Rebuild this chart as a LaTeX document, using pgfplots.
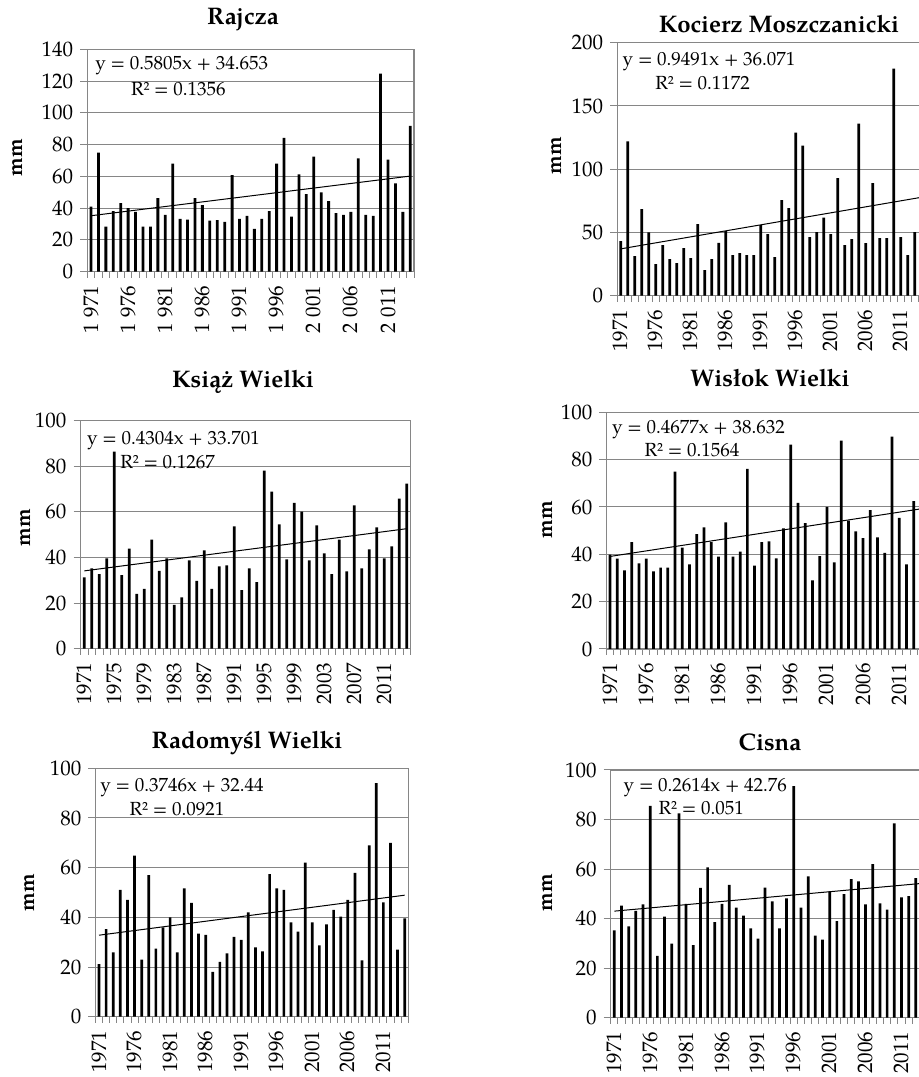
\documentclass[border=0pt]{standalone}
\usepackage{fontspec}
\setmainfont{TeX Gyre Pagella}
\usepackage{pgfplots}
\pgfplotsset{compat=1.18}
\definecolor{gridgray}{RGB}{134,134,134}
\pgfplotsset{
  panel/.style={
    scale only axis, xmin=0.5, xmax=44.5, ymin=0,
    anchor=south west,
    axis line style={gridgray, line width=0.6pt},
    ymajorgrids, grid style={gridgray, line width=0.5pt},
    tick align=outside, tick pos=left,
    major tick length=3.5pt, minor tick length=3pt,
    major x tick style={draw=none},
    minor x tick style={gridgray, line width=0.5pt},
    y tick style={gridgray, line width=0.5pt},
    minor xtick={0.5,1.5,...,44.5},
    xticklabel style={rotate=90, anchor=east},
    tick label style={font=\fontsize{10.5}{12}\selectfont},
    /pgf/number format/assume math mode=true,
    /pgf/number format/1000 sep={},
  },
  bars/.style={ybar, bar width=0.38, fill=black, draw=none},
  trend/.style={black, line width=0.5pt, sharp plot, mark=none},
}
\tikzset{
  ttl/.style={font=\bfseries\fontsize{12}{14}\selectfont},
  eq/.style={anchor=west, inner sep=0pt, font=\fontsize{9.5}{11}\selectfont},
  mm/.style={rotate=90, font=\bfseries\fontsize{10.5}{12}\selectfont},
}
\begin{document}
\begin{tikzpicture}
\useasboundingbox (0,0) rectangle (459pt,538.5pt);

% ---------- Rajcza ----------
\begin{axis}[panel, at={(43.65pt,402.65pt)}, width=163.35pt, height=111.2pt,
  ymax=140, ytick={0,20,...,140},
  xtick={1,6,...,41},
  xticklabels={1 971,1 976,1 981,1 986,1 991,1 996,2 001,2 006,2 011}]
\addplot[bars] coordinates {
(1,41)(2,75)(3,28.3)(4,38.2)(5,43.2)(6,40)(7,37.7)(8,28.3)(9,28.3)(10,46.3)
(11,35.8)(12,68.1)(13,33.3)(14,32.7)(15,46.3)(16,41.9)(17,32.1)(18,32.5)(19,31.4)(20,60.8)
(21,33.3)(22,35.2)(23,27)(24,33.3)(25,38.2)(26,68.1)(27,84.3)(28,34.6)(29,61.2)(30,48.8)
(31,72.5)(32,49.9)(33,44.4)(34,36.9)(35,35.8)(36,37.7)(37,71.3)(38,35.8)(39,35.2)(40,124.7)
(41,70.6)(42,55.6)(43,37.7)(44,91.8)};
\addplot[trend] coordinates {(1,35.23)(44,60.19)};
\end{axis}

% ---------- Kocierz Moszczanicki ----------
\begin{axis}[panel, at={(308.6pt,390.65pt)}, width=154pt, height=126.5pt,
  ymax=200, ytick={0,50,...,200},
  xtick={1,6,...,41},
  xticklabels={1971,1976,1981,1986,1991,1996,2001,2006,2011}]
\addplot[bars] coordinates {
(1,43.2)(2,122)(3,31.3)(4,68.4)(5,50)(6,25)(7,40)(8,29)(9,25.8)(10,37.6)
(11,29.7)(12,56.6)(13,20.3)(14,29)(15,41.8)(16,51)(17,32.1)(18,33.7)(19,32.1)(20,32.1)
(21,55.8)(22,48.7)(23,30.5)(24,75.5)(25,69.2)(26,129)(27,118.7)(28,46.3)(29,50.3)(30,61.8)
(31,48.7)(32,92.9)(33,40)(34,44.7)(35,136)(36,41.6)(37,88.9)(38,45.5)(39,45.5)(40,179.5)
(41,46.3)(42,32.1)(43,50.3)(44,60)};
\addplot[trend] coordinates {(1,37.02)(44,77.83)};
\end{axis}

% ---------- Ksiaz Wielki ----------
\begin{axis}[panel, at={(40.28pt,214.15pt)}, width=165pt, height=114pt,
  ymax=100, ytick={0,20,...,100},
  xtick={1,5,...,41},
  xticklabels={1971,1975,1979,1983,1987,1991,1995,1999,2003,2007,2011}]
\addplot[bars] coordinates {
(1,31.3)(2,35.2)(3,32.7)(4,39.6)(5,86.4)(6,32.3)(7,43.9)(8,24)(9,26.2)(10,47.8)
(11,34.1)(12,39.6)(13,19.2)(14,22.5)(15,38.7)(16,29.7)(17,43.1)(18,26.2)(19,36.1)(20,36.5)
(21,53.7)(22,25.7)(23,35.2)(24,29.2)(25,78.1)(26,68.9)(27,54.5)(28,39.2)(29,64)(30,60.1)
(31,38.7)(32,54.1)(33,41.8)(34,32.7)(35,47.8)(36,33.9)(37,62.9)(38,35.2)(39,43.6)(40,53.2)
(41,39.6)(42,44.9)(43,65.8)(44,72.4)};
\addplot[trend] coordinates {(1,34.13)(44,52.64)};
\end{axis}

% ---------- Wislok Wielki ----------
\begin{axis}[panel, at={(303.2pt,214pt)}, width=159.05pt, height=118.35pt,
  ymax=100, ytick={0,20,...,100},
  xtick={1,6,...,41},
  xticklabels={1971,1976,1981,1986,1991,1996,2001,2006,2011}]
\addplot[bars] coordinates {
(1,39.9)(2,38.2)(3,33.2)(4,45.1)(5,36.2)(6,38.2)(7,32.8)(8,34.4)(9,34.4)(10,74.9)
(11,42.8)(12,35.8)(13,48.5)(14,51.4)(15,45.1)(16,39)(17,53.5)(18,39)(19,41.1)(20,76.1)
(21,35.2)(22,45.1)(23,45.5)(24,38.3)(25,51)(26,86.3)(27,61.7)(28,53.2)(29,29)(30,39.2)
(31,60)(32,36.6)(33,88)(34,54.2)(35,49.7)(36,46.8)(37,58.7)(38,47.2)(39,40.6)(40,89.7)
(41,55.4)(42,35.8)(43,62.5)(44,50)};
\addplot[trend] coordinates {(1,39.10)(44,59.21)};
\end{axis}

% ---------- Radomysl Wielki ----------
\begin{axis}[panel, at={(47.73pt,30.15pt)}, width=156.4pt, height=124.2pt,
  ymax=100, ytick={0,20,...,100},
  xtick={1,6,...,41},
  xticklabels={1971,1976,1981,1986,1991,1996,2001,2006,2011}]
\addplot[bars] coordinates {
(1,21.2)(2,35.3)(3,25.9)(4,51.1)(5,47)(6,64.8)(7,23)(8,57)(9,27.4)(10,36)
(11,40)(12,25.9)(13,51.7)(14,45.8)(15,33.4)(16,32.9)(17,18)(18,22.1)(19,25.5)(20,32.1)
(21,30.9)(22,42)(23,27.9)(24,26.3)(25,57.4)(26,51.7)(27,51.1)(28,38)(29,34.2)(30,62)
(31,38)(32,28.7)(33,37.2)(34,43)(35,40.3)(36,47)(37,57.9)(38,22.7)(39,69)(40,94)
(41,46)(42,70)(43,27)(44,39.6)};
\addplot[trend] coordinates {(1,32.81)(44,48.92)};
\end{axis}

% ---------- Cisna ----------
\begin{axis}[panel, at={(305.35pt,29.65pt)}, width=157.96pt, height=123.85pt,
  ymax=100, ytick={0,20,...,100},
  xtick={1,6,...,41},
  xticklabels={1971,1976,1981,1986,1991,1996,2001,2006,2011}]
\addplot[bars] coordinates {
(1,35.3)(2,45.2)(3,36.9)(4,43.1)(5,45.8)(6,85.5)(7,25)(8,40.8)(9,29.9)(10,82.5)
(11,46)(12,29.3)(13,52.4)(14,60.7)(15,38.6)(16,46)(17,53.6)(18,44.4)(19,41.2)(20,36.1)
(21,31.9)(22,52.5)(23,47)(24,36.1)(25,48.2)(26,93.5)(27,44.4)(28,57.1)(29,33.1)(30,31.5)
(31,51)(32,39)(33,49.9)(34,55.9)(35,55)(36,45.8)(37,62)(38,46.2)(39,43.6)(40,78.5)
(41,48.6)(42,49.1)(43,56.3)(44,55)};
\addplot[trend] coordinates {(1,43.02)(44,54.26)};
\end{axis}

% titles
\node[ttl] at (121.5pt,528.5pt) {Rajcza};
\node[ttl] at (389.5pt,526.5pt) {Kocierz Moszczanicki};
\node[ttl] at (121.5pt,347.5pt) {Książ Wielki};
\node[ttl] at (385pt,349.5pt) {Wisłok Wielki};
\node[ttl] at (123.5pt,167pt) {Radomyśl Wielki};
\node[ttl] at (385pt,167.5pt) {Cisna};

% y labels
\node[mm] at (9pt,459.5pt) {mm};
\node[mm] at (278.5pt,460.5pt) {mm};
\node[mm] at (13pt,274.5pt) {mm};
\node[mm] at (274pt,278.5pt) {mm};
\node[mm] at (15pt,92pt) {mm};
\node[mm] at (274pt,92pt) {mm};

% equations
\node[eq] at (47.5pt,505.5pt) {y = 0.5805x + 34.653};
\node[eq] at (65.35pt,494pt) {R² = 0.1356};
\node[eq] at (311.15pt,507.65pt) {y = 0.9491x + 36.071};
\node[eq] at (327.5pt,497.15pt) {R² = 0.1172};
\node[eq] at (43.35pt,318pt) {y = 0.4304x + 33.701};
\node[eq] at (60pt,307.65pt) {R² = 0.1267};
\node[eq] at (305.85pt,323.85pt) {y = 0.4677x + 38.632};
\node[eq] at (322.15pt,313.5pt) {R² = 0.1564};
\node[eq] at (50pt,144.65pt) {y = 0.3746x + 32.44};
\node[eq] at (64.65pt,133.85pt) {R² = 0.0921};
\node[eq] at (311.65pt,144.65pt) {y = 0.2614x + 42.76};
\node[eq] at (329.15pt,134.65pt) {R² = 0.051};
\end{tikzpicture}
\end{document}
